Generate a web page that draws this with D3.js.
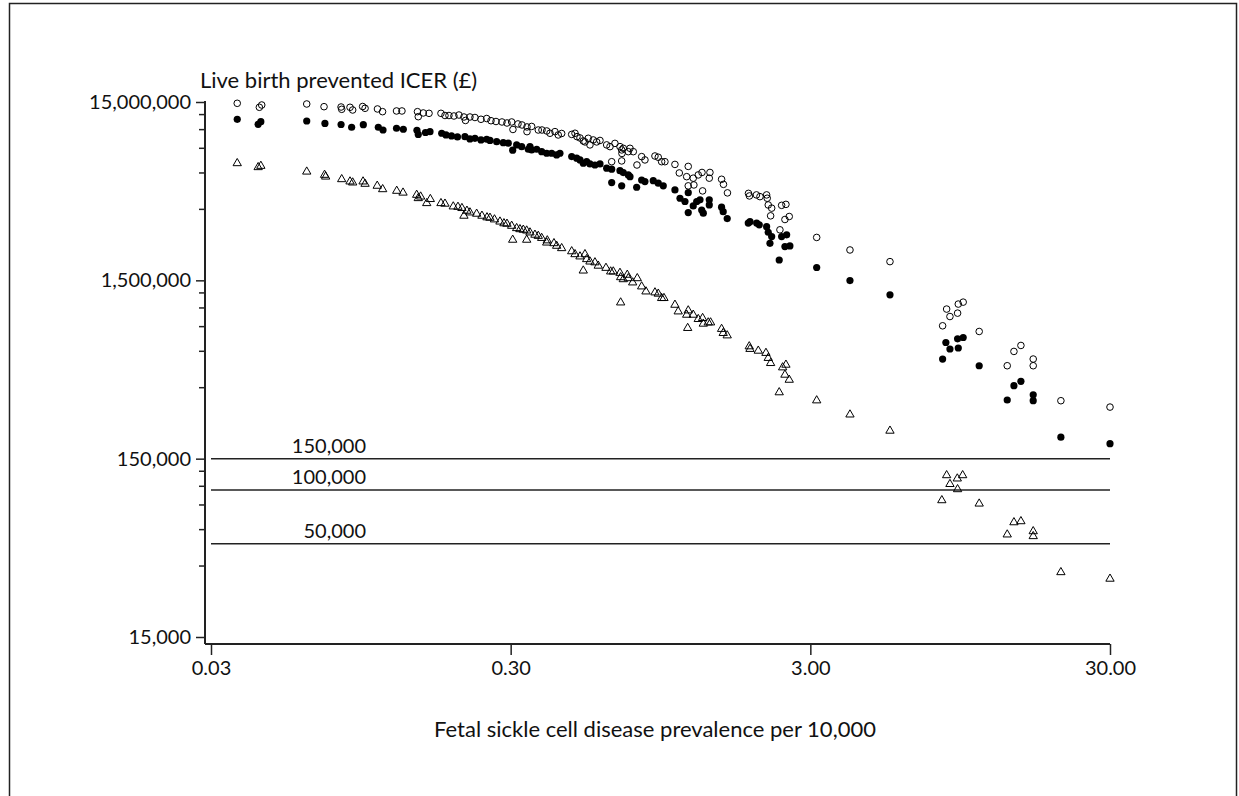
<!DOCTYPE html>
<html>
  <head>
    <style>
      body {
        margin: 0;
        background: #fff;
      }
      svg text {
        font-family: "Lato", "Noto Sans", sans-serif;
        fill: #111;
      }
    </style>
    <script src="https://d3js.org/d3.v7.min.js"></script>
  </head>
  <body>
    <script>
      const width = 1239;
      const height = 796;

      // open circles
      const openX = [0.0367, 0.0435, 0.0443, 0.0626, 0.0715, 0.0815, 0.0819, 0.0873, 0.0891, 0.0962,
        0.098, 0.1078, 0.1121, 0.1248, 0.1301, 0.1466, 0.1475, 0.1533, 0.1602, 0.1756,
        0.1811, 0.1867, 0.194, 0.2016, 0.2095, 0.212, 0.2194, 0.228, 0.2388, 0.2495,
        0.2579, 0.268, 0.2806, 0.2916, 0.3023, 0.3053, 0.3173, 0.3273, 0.3401, 0.3525,
        0.3401, 0.3709, 0.3816, 0.3957, 0.4058, 0.4216, 0.4324, 0.4439, 0.4795, 0.4918,
        0.4994, 0.511, 0.5241, 0.531, 0.5446, 0.5517, 0.5659, 0.5809, 0.5959, 0.6273,
        0.6436, 0.6685, 0.6948, 0.704, 0.7055, 0.7127, 0.7407, 0.7504, 0.7696, 0.652,
        0.704, 0.7917, 0.8208, 0.8418, 0.9091, 0.9325, 0.9569, 0.9815, 1.06, 1.096,
        1.16, 1.174, 1.22, 1.226, 1.174, 1.268, 1.305, 1.311, 1.387, 1.38,
        1.517, 1.539, 1.587, 1.865, 1.879, 1.983, 2.037, 2.144, 2.154, 2.171,
        2.229, 2.211, 2.375, 2.406, 2.487, 2.468, 2.551, 3.15, 4.068, 5.532,
        8.29, 8.55, 8.77, 9.3, 9.35, 9.71, 10.98, 13.62, 14.34, 15.13,
        16.63, 16.63, 20.57, 30.0];
      const openY = [14750000, 14010000, 14430000, 14620000, 14120000, 14060000, 13650000, 14010000, 13530000, 14150000,
        13830000, 13710000, 13240000, 13360000, 13360000, 13240000, 12410000, 13020000, 12960000, 12960000,
        12600000, 12600000, 12520000, 12680000, 12360000, 11820000, 12360000, 12280000, 12000000, 12120000,
        11780000, 11660000, 11590000, 11440000, 11590000, 10520000, 11300000, 11150000, 10870000, 10940000,
        10230000, 10450000, 10450000, 10320000, 10020000, 10230000, 9800000, 9990000, 9870000, 10020000,
        9590000, 9430000, 9070000, 8960000, 9390000, 8620000, 9190000, 8960000, 9130000, 8620000,
        8430000, 8790000, 8430000, 8080000, 7720000, 8250000, 7900000, 8250000, 7900000, 6940000,
        7010000, 6650000, 7410000, 7100000, 7470000, 7350000, 6940000, 6940000, 6700000, 6000000,
        5720000, 6530000, 5610000, 5140000, 5080000, 5850000, 6040000, 4760000, 6040000, 5610000,
        5530000, 5180000, 4640000, 4610000, 4460000, 4520000, 4420000, 4520000, 4330000, 3970000,
        3810000, 3450000, 2880000, 3950000, 4000000, 3290000, 3420000, 2610000, 2220000, 1910000,
        834000, 1035000, 940000, 982000, 1104000, 1132000, 775000, 498000, 599000, 647000,
        543000, 498000, 317000, 292000];

      // filled circles
      const filledX = [0.0367, 0.0431, 0.044, 0.0626, 0.072, 0.0815, 0.0884, 0.0967, 0.1085, 0.1125,
        0.1248, 0.1315, 0.146, 0.1475, 0.1559, 0.1614, 0.1766, 0.1825, 0.1904, 0.1993,
        0.2111, 0.2194, 0.228, 0.2388, 0.2495, 0.2559, 0.2694, 0.2834, 0.2945, 0.3047,
        0.3141, 0.3265, 0.3435, 0.348, 0.3525, 0.3664, 0.3807, 0.3957, 0.4111, 0.4271,
        0.4381, 0.4795, 0.4983, 0.511, 0.5241, 0.5379, 0.5517, 0.5733, 0.5959, 0.6273,
        0.652, 0.652, 0.6948, 0.704, 0.7127, 0.7407, 0.7504, 0.7899, 0.8208, 0.8418,
        0.8973, 0.9325, 0.9691, 1.06, 1.102, 1.145, 1.174, 1.174, 1.22, 1.253,
        1.285, 1.318, 1.302, 1.38, 1.38, 1.517, 1.536, 1.584, 1.862, 1.887,
        1.986, 2.026, 2.144, 2.171, 2.2, 2.229, 2.362, 2.406, 2.501, 2.468,
        2.564, 3.15, 4.068, 5.532, 8.29, 8.5, 8.77, 9.35, 9.3, 9.71,
        10.98, 13.62, 14.34, 15.13, 16.63, 16.63, 20.57, 30.0];
      const filledY = [12000000, 11250000, 11630000, 11740000, 11370000, 11220000, 10830000, 11190000, 10830000, 10450000,
        10690000, 10550000, 10410000, 9870000, 10120000, 10230000, 10020000, 9800000, 9680000, 9550000,
        9590000, 9310000, 9390000, 9190000, 9270000, 9130000, 8990000, 8870000, 8810000, 8050000,
        8620000, 8430000, 8150000, 8430000, 8080000, 8150000, 7900000, 7740000, 7740000, 7570000,
        7740000, 7410000, 7260000, 7100000, 6800000, 6940000, 6740000, 6650000, 6740000, 6380000,
        6300000, 5300000, 6180000, 5080000, 6030000, 5850000, 5720000, 4990000, 5480000, 5370000,
        5430000, 5260000, 5080000, 4820000, 4330000, 4150000, 4650000, 3600000, 3920000, 4150000,
        4240000, 3570000, 3720000, 3970000, 4240000, 3860000, 3640000, 3330000, 3140000, 3200000,
        3140000, 3070000, 3000000, 2790000, 2420000, 2640000, 1950000, 2640000, 2700000, 2320000,
        2340000, 1770000, 1496000, 1244000, 543000, 672000, 618000, 626000, 705000, 717000,
        498000, 320000, 385000, 407000, 342000, 317000, 198000, 182000];

      // open triangles
      const triX = [0.0367, 0.0431, 0.044, 0.0626, 0.0718, 0.0724, 0.0819, 0.0873, 0.0891, 0.0965,
        0.098, 0.1076, 0.1122, 0.125, 0.1312, 0.1457, 0.1475, 0.1502, 0.1574, 0.1618,
        0.1756, 0.1811, 0.193, 0.2001, 0.2063, 0.2095, 0.2144, 0.2194, 0.231, 0.2406,
        0.2501, 0.2559, 0.2649, 0.2763, 0.2849, 0.2916, 0.3023, 0.3047, 0.3141, 0.3222,
        0.3306, 0.3393, 0.3393, 0.348, 0.3615, 0.3709, 0.3807, 0.3957, 0.3975, 0.4184,
        0.4271, 0.4439, 0.4795, 0.4918, 0.511, 0.531, 0.5241, 0.5379, 0.5517, 0.5733,
        0.588, 0.624, 0.6469, 0.66, 0.6948, 0.6985, 0.7127, 0.7349, 0.7407, 0.766,
        0.7936, 0.8208, 0.8484, 0.6985, 0.9091, 0.9325, 0.9569, 0.9742, 1.06, 1.087,
        1.16, 1.174, 1.22, 1.268, 1.311, 1.318, 1.369, 1.394, 1.169, 1.517,
        1.536, 1.584, 1.876, 1.887, 2.011, 2.133, 2.171, 2.211, 2.425, 2.487,
        2.468, 2.551, 2.362, 3.15, 4.068, 5.532, 8.55, 8.77, 9.28, 9.67,
        9.3, 8.24, 10.98, 13.62, 14.34, 15.13, 16.63, 16.63, 20.57, 30.0];
      const triY = [6800000, 6460000, 6570000, 6100000, 5850000, 5720000, 5530000, 5370000, 5300000, 5370000,
        5210000, 5080000, 4860000, 4760000, 4650000, 4520000, 4330000, 4420000, 4060000, 4280000,
        4060000, 4030000, 3890000, 3870000, 3810000, 3450000, 3680000, 3600000, 3540000, 3450000,
        3380000, 3360000, 3290000, 3200000, 3130000, 3110000, 3030000, 2530000, 2940000, 2900000,
        2880000, 2850000, 2530000, 2780000, 2700000, 2660000, 2590000, 2440000, 2510000, 2420000,
        2340000, 2270000, 2180000, 2100000, 2040000, 2100000, 1700000, 1970000, 1910000, 1890000,
        1810000, 1760000, 1680000, 1680000, 1650000, 1560000, 1520000, 1610000, 1540000, 1458000,
        1540000, 1385000, 1298000, 1126000, 1282000, 1261000, 1192000, 1192000, 1093000, 1003000,
        961000, 1016000, 961000, 909000, 921000, 856000, 870000, 870000, 810000, 800000,
        759000, 736000, 639000, 618000, 604000, 587000, 550000, 515000, 487000, 504000,
        443000, 415000, 353000, 318000, 265000, 215000, 121000, 108000, 116000, 121000,
        101000, 87600, 83900, 56300, 65900, 66800, 58700, 55100, 34600, 31800];

      const xTicks = [0.03, 0.3, 3, 30];
      const yTicks = [15000, 150000, 1500000, 15000000];
      const thresholds = [150000, 100000, 50000];
      const thresholdLabels = ["150,000", "100,000", "50,000"];

      const xScale = d3.scaleLog().domain([0.03, 30]).range([211, 1110]);
      const yScale = d3.scaleLog().domain([15000, 15000000]).range([637, 102]);
      const axisX = 205; // where the y axis sits
      const axisY = 644; // where the x axis sits

      const svg = d3
        .select("body")
        .append("svg")
        .attr("width", width)
        .attr("height", height);

      // frame round the whole figure
      svg
        .append("rect")
        .attr("x", 9.5)
        .attr("y", 3.5)
        .attr("width", 1227)
        .attr("height", 820)
        .attr("fill", "none")
        .attr("stroke", "#222")
        .attr("stroke-width", 1.5);

      // minor ticks: each decade split in six equal steps
      const yMinor = [];
      yTicks.slice(0, -1).forEach((t) => {
        for (let k = 1; k <= 5; k++) yMinor.push(t * (1 + 1.5 * k));
      });

      const yAxis = d3
        .axisLeft(yScale)
        .tickValues(yTicks)
        .tickFormat(d3.format(","))
        .tickSize(9)
        .tickPadding(5);
      const gy = svg
        .append("g")
        .attr("transform", "translate(" + axisX + ",0)")
        .call(yAxis);
      gy.select(".domain").remove();
      gy.selectAll("text").style("font-size", "20px");
      gy.selectAll("line").attr("stroke", "#222").attr("stroke-width", 1.5);

      svg
        .append("g")
        .selectAll("line")
        .data(yMinor)
        .enter()
        .append("line")
        .attr("x1", axisX - 6)
        .attr("x2", axisX)
        .attr("y1", (d) => yScale(d))
        .attr("y2", (d) => yScale(d))
        .attr("stroke", "#222")
        .attr("stroke-width", 1.5);

      const xAxis = d3
        .axisBottom(xScale)
        .tickValues(xTicks)
        .tickFormat(d3.format(".2f"))
        .tickSize(11)
        .tickPadding(6);
      const gx = svg
        .append("g")
        .attr("transform", "translate(0," + axisY + ")")
        .call(xAxis);
      gx.select(".domain").remove();
      gx.selectAll("text").style("font-size", "20px");
      gx.selectAll("line").attr("stroke", "#222").attr("stroke-width", 1.5);

      // axis lines
      svg
        .append("line")
        .attr("x1", axisX)
        .attr("x2", axisX)
        .attr("y1", yScale(15000000) - 1)
        .attr("y2", axisY)
        .attr("stroke", "#222")
        .attr("stroke-width", 2);
      svg
        .append("line")
        .attr("x1", axisX)
        .attr("x2", xScale(30))
        .attr("y1", axisY)
        .attr("y2", axisY)
        .attr("stroke", "#222")
        .attr("stroke-width", 2);

      // threshold lines
      svg
        .append("g")
        .selectAll("line")
        .data(thresholds)
        .enter()
        .append("line")
        .attr("x1", xScale(0.03))
        .attr("x2", xScale(30))
        .attr("y1", (d) => yScale(d))
        .attr("y2", (d) => yScale(d))
        .attr("stroke", "#222")
        .attr("stroke-width", 1.5);
      svg
        .append("g")
        .selectAll("text")
        .data(thresholds)
        .enter()
        .append("text")
        .attr("x", 366)
        .attr("y", (d) => yScale(d) - 6)
        .attr("text-anchor", "end")
        .style("font-size", "20px")
        .text((d, i) => thresholdLabels[i]);

      // points
      const pts = svg.append("g");
      pts
        .selectAll(".open")
        .data(openX)
        .enter()
        .append("circle")
        .attr("class", "open")
        .attr("cx", (d) => xScale(d))
        .attr("cy", (d, i) => yScale(openY[i]))
        .attr("r", 3.3)
        .attr("fill", "none")
        .attr("stroke", "#000")
        .attr("stroke-width", 1);

      pts
        .selectAll(".filled")
        .data(filledX)
        .enter()
        .append("circle")
        .attr("class", "filled")
        .attr("cx", (d) => xScale(d))
        .attr("cy", (d, i) => yScale(filledY[i]))
        .attr("r", 3.6)
        .attr("fill", "#000");

      const tri = d3.symbol().type(d3.symbolTriangle).size(30);
      pts
        .selectAll(".tri")
        .data(triX)
        .enter()
        .append("path")
        .attr("class", "tri")
        .attr("d", tri)
        .attr("transform", (d, i) => "translate(" + xScale(d) + "," + yScale(triY[i]) + ")")
        .attr("fill", "none")
        .attr("stroke", "#000")
        .attr("stroke-width", 1);

      // titles
      svg
        .append("text")
        .attr("x", 200)
        .attr("y", 88)
        .style("font-size", "22px")
        .text("Live birth prevented ICER (£)");

      svg
        .append("text")
        .attr("x", 655)
        .attr("y", 737)
        .attr("text-anchor", "middle")
        .style("font-size", "22px")
        .text("Fetal sickle cell disease prevalence per 10,000");
    </script>
  </body>
</html>
